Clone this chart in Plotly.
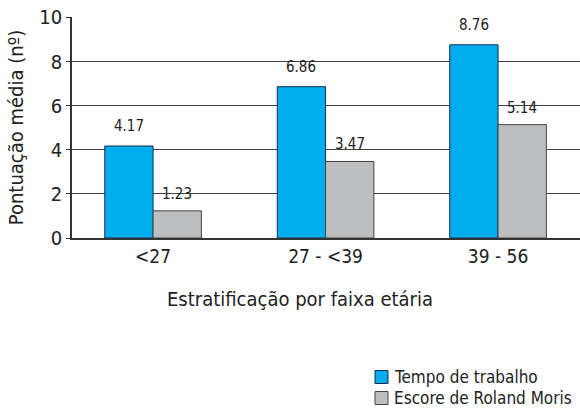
import plotly.graph_objects as go

categories = ["<27", "27 - <39", "39 - 56"]
tempo = [4.17, 6.86, 8.76]
roland = [1.23, 3.47, 5.14]
series_names = ["Tempo de trabalho", "Escore de Roland Moris"]
y_ticks = [0, 2, 4, 6, 8, 10]

FONT = "DejaVu Sans Condensed, Liberation Sans Narrow, sans-serif"
BLUE = "#00AEEF"
GRAY = "#BDBEC0"
BLUE_EDGE = "#1a2a4a"
GRAY_EDGE = "#444444"

FW, FH = 580, 416
L, T, W, H = 72, 17, 508, 221


def px(xs_):
    return (xs_ - L) / W


def py(ys_):
    return (T + H - ys_) / H


xs = list(range(len(categories)))
fig = go.Figure()
fig.add_bar(x=xs, y=tempo, name=series_names[0], marker=dict(color=BLUE, line=dict(color=BLUE_EDGE, width=1)))
fig.add_bar(x=xs, y=roland, name=series_names[1], marker=dict(color=GRAY, line=dict(color=GRAY_EDGE, width=1)))

off = 0.14
for i, v in enumerate(tempo):
    fig.add_annotation(x=xs[i] - off, y=v, text=f"{v:.2f}", showarrow=False, yshift=20,
                       font=dict(size=15, color="#222", family=FONT))
for i, v in enumerate(roland):
    fig.add_annotation(x=xs[i] + off, y=v, text=f"{v:.2f}", showarrow=False, yshift=17,
                       font=dict(size=15, color="#222", family=FONT))

fig.add_annotation(xref="paper", yref="paper", x=px(300), y=py(313), text="Estratificação por faixa etária",
                   showarrow=False, font=dict(size=20, color="#222", family=FONT))

fig.add_shape(type="line", xref="paper", yref="y", x0=0, x1=0, y0=0, y1=-0.42,
              line=dict(color="#333", width=1.5))

# manual legend
for name, col, edge, yc in [(series_names[0], BLUE, BLUE_EDGE, 377), (series_names[1], GRAY, GRAY_EDGE, 398)]:
    fig.add_shape(type="rect", xref="paper", yref="paper", x0=px(375), x1=px(388), y0=py(yc + 6.5), y1=py(yc - 6.5),
                  fillcolor=col, line=dict(color=edge, width=1))
    fig.add_annotation(xref="paper", yref="paper", x=px(392), y=py(yc), xanchor="left", yanchor="middle",
                       text=name, showarrow=False, font=dict(size=17, color="#222", family=FONT))

fig.update_layout(
    width=FW, height=FH,
    margin=dict(l=L, r=FW - L - W, t=T, b=FH - T - H),
    paper_bgcolor="white", plot_bgcolor="white",
    barmode="group", bargap=0.44, bargroupgap=0,
    font=dict(family=FONT, color="#222"),
    showlegend=False,
    xaxis=dict(range=[-0.47, 2.475], tickvals=xs, ticktext=categories, showgrid=False, automargin=False,
               showline=True, linecolor="#333", linewidth=1.5, ticks="", tickfont=dict(size=19, family=FONT),
               zeroline=False),
    yaxis=dict(range=[0, 10.02], tickvals=y_ticks, showgrid=True, gridcolor="#444", gridwidth=1, automargin=False,
               showline=True, linecolor="#333", linewidth=1.5, ticks="outside", ticklen=4, tickcolor="#333",
               tickfont=dict(size=20, family=FONT), zeroline=False,
               title=dict(text="Pontuação média (nº)", font=dict(size=20, family=FONT), standoff=10)),
)
fig.write_html("out.html", config={"displayModeBar": False},
               post_script="document.body.style.margin='0';document.body.style.overflow='hidden';")
